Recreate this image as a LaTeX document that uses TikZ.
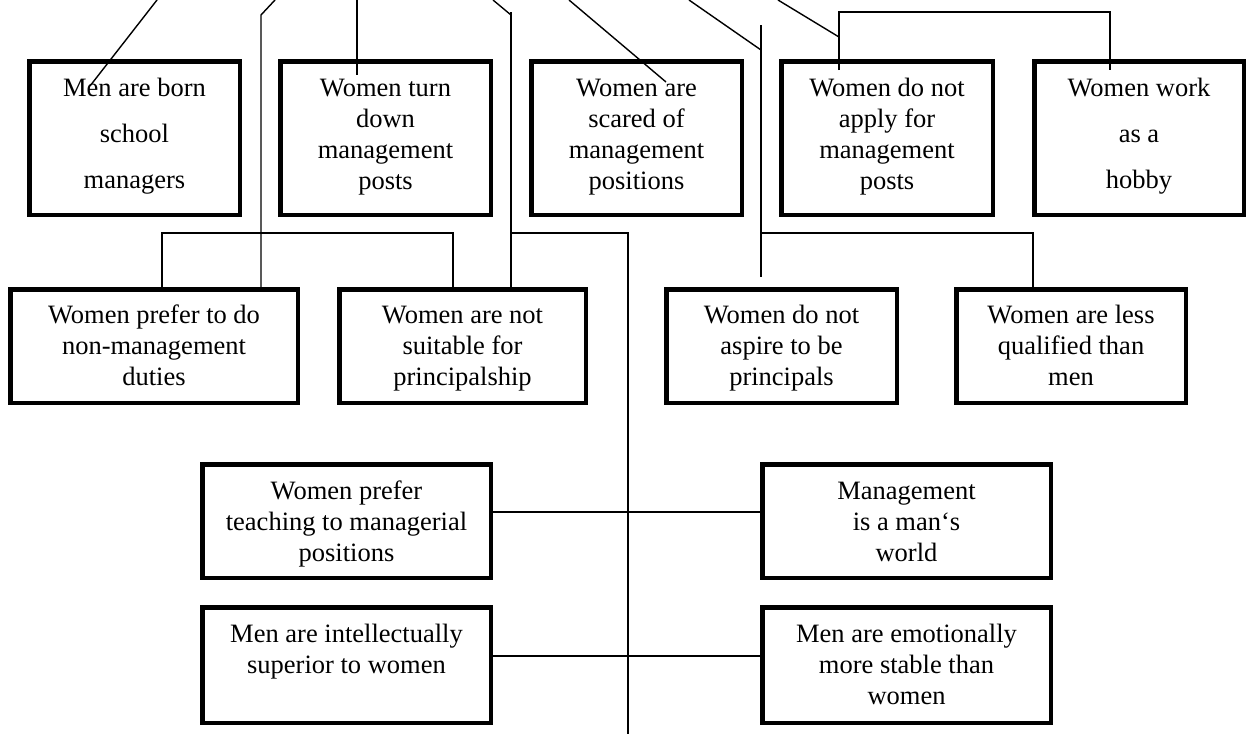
\documentclass[tikz,border=0pt]{standalone}
\usepackage{fontspec}
\setmainfont{Liberation Serif}
\newcommand{\boxlines}[1]{\begin{tabular}[t]{@{}c@{}}#1\end{tabular}}
\tikzset{
  box/.style={draw, line width=4.5pt, anchor=north, inner xsep=0pt, inner ysep=0pt,
    font=\fontsize{26.5}{31}\selectfont},
  rowone/.style={box, text height=34.75pt, text depth=118.75pt},
  rowtwo/.style={box, text height=33.75pt, text depth=79.75pt},
  rowthree/.style={box, text height=34.75pt, text depth=78.75pt},
  rowfour/.style={box, text height=34.75pt, text depth=80.75pt},
  conn/.style={line width=1.4pt, line cap=butt, line join=miter},
}
\begin{document}
\begin{tikzpicture}[x=1pt, y=-1pt]
\useasboundingbox (0,0) rectangle (1248,734);
% row 1
\node[rowone, minimum width=210.5pt] (b1) at (134.5,59.25) {\boxlines{Men are born\\[15pt]school\\[15pt]managers}};
\node[rowone, minimum width=210.5pt] (b2) at (385.5,59.25) {\boxlines{Women turn\\down\\management\\posts}};
\node[rowone, minimum width=210.5pt] (b3) at (636.5,59.25) {\boxlines{Women are\\scared of\\management\\positions}};
\node[rowone, minimum width=211.5pt] (b4) at (887,59.25) {\boxlines{Women do not\\apply for\\management\\posts}};
\node[rowone, minimum width=209.5pt] (b5) at (1139,59.25) {\boxlines{Women work\\[15pt]as a\\[15pt]hobby}};
% row 2
\node[rowtwo, minimum width=287.5pt] (r2a) at (154,287.25) {\boxlines{Women prefer to do\\non-management\\duties}};
\node[rowtwo, minimum width=246.5pt] (r2b) at (462.5,287.25) {\boxlines{Women are not\\suitable for\\principalship}};
\node[rowtwo, minimum width=230.5pt] (r2c) at (781.5,287.25) {\boxlines{Women do not\\aspire to be\\principals}};
\node[rowtwo, minimum width=229.5pt] (r2d) at (1071,287.25) {\boxlines{Women are less\\qualified than\\men}};
% row 3
\node[rowthree, minimum width=288.5pt] (r3l) at (346.5,462.25) {\boxlines{Women prefer\\teaching to managerial\\positions}};
\node[rowthree, minimum width=288.5pt] (r3r) at (906.5,462.25) {\boxlines{Management\\is a man{\char"60}s\\world}};
% row 4
\node[rowfour, minimum width=288.5pt] (r4l) at (346.5,605.25) {\boxlines{Men are intellectually\\superior to women}};
\node[rowfour, minimum width=288.5pt] (r4r) at (906.5,605.25) {\boxlines{Men are emotionally\\more stable than\\women}};

% connector coordinates
\coordinate (t1) at (157,0);   \coordinate (e1) at (90,86);
\coordinate (t2) at (275,0);   \coordinate (k2) at (261,15);
\coordinate (t3) at (357,0);   \coordinate (e3) at (357,75);
\coordinate (t4) at (493,0);   \coordinate (k4) at (511,15);  \coordinate (s4) at (511,12);
\coordinate (t5) at (569,0);   \coordinate (e5) at (666,82);
\coordinate (t6) at (689,0);   \coordinate (k6) at (761,50);  \coordinate (s6) at (761,25); \coordinate (e6) at (761,277);
\coordinate (t7) at (778,0);   \coordinate (k7) at (839,37);
\coordinate (h7) at (839,12);  \coordinate (h7b) at (1110,12);
\coordinate (p4) at (839,70);  \coordinate (p5) at (1110,70);
\coordinate (m1) at (162,233); \coordinate (m2) at (453,233);
\coordinate (m3) at (511,233); \coordinate (m4) at (628,233); \coordinate (bot) at (628,734);
\coordinate (m5) at (761,233); \coordinate (m6) at (1033,233);
\coordinate (y3) at (0,512);   \coordinate (y4) at (0,656);

% connectors
\draw[conn] (t1) -- (e1);
\draw[conn] (t2) -- (k2) -- (k2 |- r2a.north);
\draw[conn] (t3) -- (e3);
\draw[conn] (t4) -- (k4);
\draw[conn] (s4) -- (s4 |- r2b.north);
\draw[conn] (t5) -- (e5);
\draw[conn] (t6) -- (k6);
\draw[conn] (s6) -- (e6);
\draw[conn] (t7) -- (k7);
\draw[conn] (p4) -- (h7) -- (h7b) -- (p5);
\draw[conn] (m1 |- r2a.north) -- (m1) -- (m2) -- (m2 |- r2b.north);
\draw[conn] (m3) -- (m4) -- (bot);
\draw[conn] (m5) -- (m6) -- (m6 |- r2d.north);
\draw[conn] (r3l.east |- y3) -- (r3r.west |- y3);
\draw[conn] (r4l.east |- y4) -- (r4r.west |- y4);
\end{tikzpicture}
\end{document}
